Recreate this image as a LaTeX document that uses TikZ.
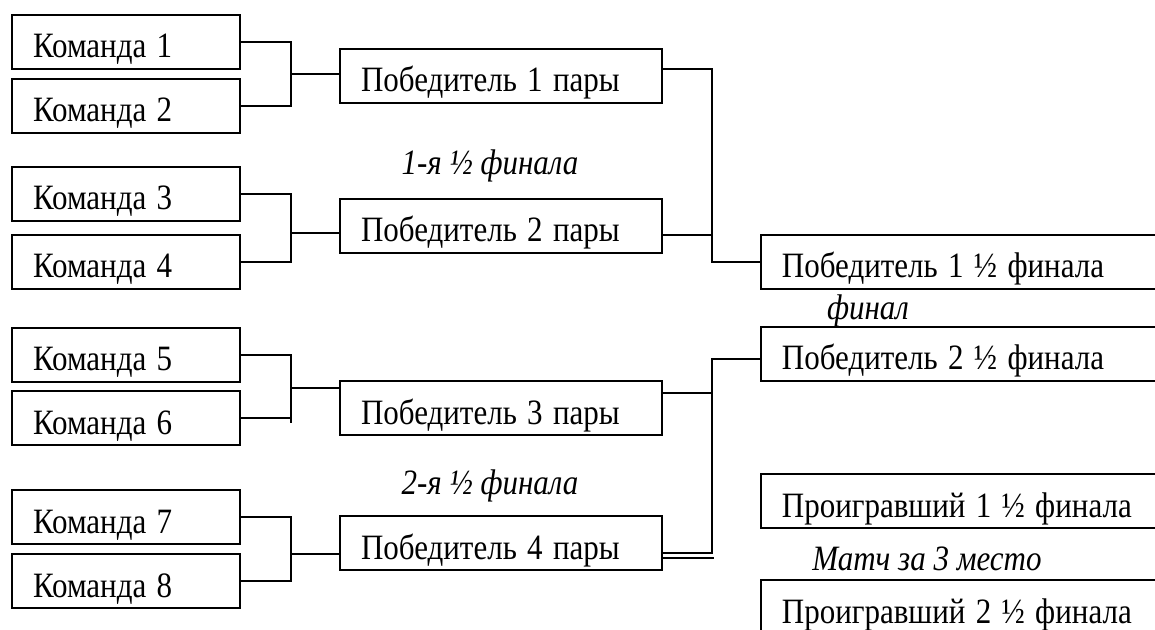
\documentclass[tikz,border=0pt]{standalone}
\usepackage{fontspec}
\setmainfont{Liberation Serif}
\usetikzlibrary{calc,positioning}
\newcommand{\tall}[1]{\scalebox{1}[1.15]{#1}}
\tikzstyle{team}   = [rectangle, draw=black, line width=0.9pt, minimum height=27pt, text width=93pt, text height=17pt, text depth=1pt, inner xsep=10.5pt, inner ysep=0pt, align=left, font=\fontsize{15.5}{18}\selectfont]
\tikzstyle{winner} = [team, text width=140pt]
\tikzstyle{last}   = [team, text width=190pt, anchor=west]
\tikzstyle{stage}  = [font=\fontsize{15.5}{18}\selectfont\itshape]
\tikzstyle{line}   = [line width=0.9pt]

\begin{document}
\begin{tikzpicture}[x=0.5pt,y=-0.5pt]
        \clip (0,0) rectangle (1155,630);

        % teams
        \node[team] (k1) at (126,42) {\tall{Команда 1}};
        \node[team] (k2) at (126,106) {\tall{Команда 2}};
        \node[team] (k3) at (126,194) {\tall{Команда 3}};
        \node[team] (k4) at (126,262) {\tall{Команда 4}};
        \node[team] (k5) at (126,355) {\tall{Команда 5}};
        \node[team] (k6) at (126,418) {\tall{Команда 6}};
        \node[team] (k7) at (126,517) {\tall{Команда 7}};
        \node[team] (k8) at (126,581) {\tall{Команда 8}};

        % winners of pairs
        \node[winner] (w1) at (501,76) {\tall{Победитель 1 пары}};
        \node[winner] (w2) at (501,226) {\tall{Победитель 2 пары}};
        \node[winner] (w3) at (501,408) {\tall{Победитель 3 пары}};
        \node[winner] (w4) at (501,543) {\tall{Победитель 4 пары}};

        % final and third place
        \node[last] (f1) at (760,262) {\tall{Победитель 1 ½ финала}};
        \node[last] (f2) at (760,354) {\tall{Победитель 2 ½ финала}};
        \node[last] (l1) at (760,501) {\tall{Проигравший 1 ½ финала}};
        \node[last] (l2) at (760,607) {\tall{Проигравший 2 ½ финала}};

        \node[stage] (s1) at (490,166) {\tall{1-я ½ финала}};
        \node[stage] (s2) at (490,486) {\tall{2-я ½ финала}};
        \node[stage] (fin) at (868,311) {\tall{финал}};
        \node[stage] (m3) at (927,559) {\tall{Матч за 3 место}};

        % first round
        \draw[line] (k1.east) -- ++(50,0) |- (k2.east);
        \coordinate (p1) at ($(k1.east)!0.5!(k2.east)+(50,0)$);
        \draw[line] (p1) -- (p1 -| w1.west);

        \draw[line] (k3.east) -- ++(50,0) |- (k4.east);
        \coordinate (p2) at ($(k3.east)!0.5!(k4.east)+(50,5)$);
        \draw[line] (p2) -- (p2 -| w2.west);

        \draw[line] (k5.east) -- ++(50,0) -- ++(0,68);
        \draw[line] (k6.east) -- ++(50,0);
        \coordinate (p3) at ($(k5.east)!0.5!(k6.east)+(50,1.5)$);
        \draw[line] (p3) -- (p3 -| w3.west);

        \draw[line] (k7.east) -- ++(50,0) |- (k8.east);
        \coordinate (p4) at ($(k7.east)!0.5!(k8.east)+(50,5)$);
        \draw[line] (p4) -- (p4 -| w4.west);

        % semi-finals
        \coordinate (j1) at ($(w1.east)+(49,-7)$);
        \draw[line] (j1 -| w1.east) -- (j1) |- (f1.west);
        \draw[line] ($(w2.east)+(0,9)$) -- ++(49,0);

        \coordinate (j2) at ($(w4.east)+(49,10)$);
        \draw[line] ($(f2.west)+(0,5)$) -| (j2) -- (j2 -| w4.east);
        \draw[line] ($(j2 -| w4.east)+(0,5)$) -- ++(51,0);
        \draw[line] ($(w3.east)+(0,-15)$) -- ++(49,0);
    \end{tikzpicture}
\end{document}
